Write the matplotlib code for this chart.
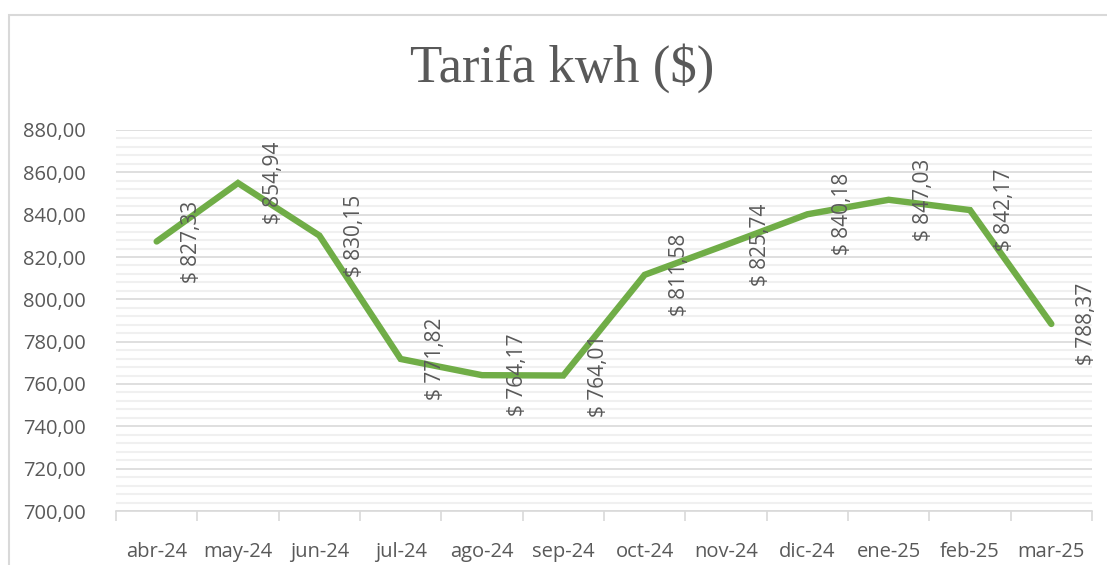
import matplotlib.pyplot as plt
from matplotlib.patches import Rectangle
from matplotlib.ticker import MultipleLocator, FuncFormatter

months = ["abr-24", "may-24", "jun-24", "jul-24", "ago-24", "sep-24",
          "oct-24", "nov-24", "dic-24", "ene-25", "feb-25", "mar-25"]
tarifa = [827.33, 854.94, 830.15, 771.82, 764.17, 764.01,
          811.58, 825.74, 840.18, 847.03, 842.17, 788.37]

text_col = "#595959"
plt.rcParams['font.family'] = ['Open Sans', 'DejaVu Sans']

fig = plt.figure(figsize=(11.07, 5.65), dpi=100)
ax = fig.add_axes([116 / 1107, 1 - 511 / 565, (1092 - 116) / 1107, (511 - 130) / 565])

x = list(range(len(months)))
ax.plot(x, tarifa, color="#70AD47", lw=4.6, solid_joinstyle="miter", solid_capstyle="round", zorder=3)

def fmt_money(v):
    return "$ " + f"{v:,.2f}".replace(",", "X").replace(".", ",").replace("X", ".")

# etiquetas de datos giradas, a la derecha de cada punto
for xi, v in zip(x, tarifa):
    ax.annotate(fmt_money(v), (xi, v), xytext=(35, 0), textcoords="offset pixels",
                rotation=90, ha="center", va="center", fontsize=15, color=text_col, zorder=4)

ax.set_xlim(-0.5, len(months) - 0.5)
ax.set_ylim(700, 880)
ax.yaxis.set_major_locator(MultipleLocator(20))
ax.yaxis.set_minor_locator(MultipleLocator(4))
ax.yaxis.set_major_formatter(FuncFormatter(lambda v, p: f"{v:.2f}".replace(".", ",")))
ax.grid(which="major", axis="y", color="#d9d9d9", lw=1.2, zorder=0)
ax.grid(which="minor", axis="y", color="#f0f0f0", lw=1.5, zorder=0)
ax.set_axisbelow(True)

ax.set_xticks(x)
ax.set_xticklabels(months)
ax.set_xticks([i - 0.5 for i in range(len(months) + 1)], minor=True)
ax.tick_params(axis="x", which="major", length=0, pad=22, labelsize=14.5, colors=text_col)
ax.tick_params(axis="x", which="minor", length=7, color="#d9d9d9", width=1.2)
ax.tick_params(axis="y", which="both", length=0, pad=22, labelsize=14.5, colors=text_col)

for s in ["top", "right", "left"]:
    ax.spines[s].set_visible(False)
ax.spines["bottom"].set_color("#d9d9d9")
ax.spines["bottom"].set_linewidth(1.2)

fig.text(562 / 1107, 1 - 68 / 565, "Tarifa kwh ($)", ha="center", va="center",
         fontsize=38, color=text_col, family=["Liberation Serif", "DejaVu Serif"])

# borde del área del gráfico
fig.patches.append(Rectangle((9 / 1107, -0.1), 1.2, 1.1 - 15 / 565, transform=fig.transFigure,
                             fill=False, edgecolor="#d9d9d9", lw=1.5))

fig.savefig("out.png", dpi=100)
